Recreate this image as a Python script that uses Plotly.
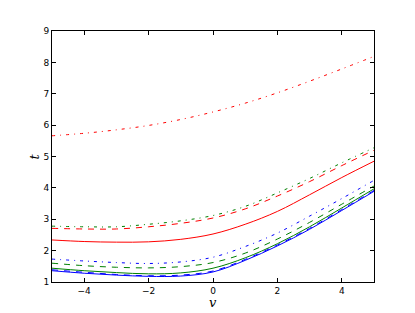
import plotly.graph_objects as go

v = [-5, -4, -3, -2, -1, 0, 1, 2, 3, 4, 5]

red_solid = [2.34, 2.29, 2.27, 2.28, 2.36, 2.53, 2.84, 3.25, 3.78, 4.33, 4.85]
red_dashed = [2.71, 2.69, 2.69, 2.76, 2.87, 3.04, 3.33, 3.74, 4.20, 4.71, 5.20]
red_dashdot = [5.66, 5.74, 5.85, 5.99, 6.18, 6.42, 6.70, 7.03, 7.40, 7.79, 8.19]

green_solid = [1.44, 1.36, 1.30, 1.26, 1.29, 1.44, 1.77, 2.22, 2.76, 3.36, 3.97]
green_dashed = [1.60, 1.52, 1.47, 1.45, 1.49, 1.62, 1.92, 2.37, 2.90, 3.48, 4.06]
green_dashdot = [2.78, 2.76, 2.76, 2.84, 2.95, 3.12, 3.41, 3.84, 4.30, 4.80, 5.28]

blue_solid = [1.36, 1.28, 1.22, 1.18, 1.19, 1.32, 1.69, 2.15, 2.68, 3.28, 3.89]
blue_dashed = [1.39, 1.31, 1.24, 1.20, 1.22, 1.35, 1.72, 2.18, 2.71, 3.31, 3.92]
blue_dashdot = [1.73, 1.67, 1.62, 1.59, 1.64, 1.79, 2.13, 2.56, 3.10, 3.66, 4.24]

x_ticks = [-4, -2, 0, 2, 4]
y_ticks = [1, 2, 3, 4, 5, 6, 7, 8, 9]

RED, GREEN, BLUE = "rgb(255,0,0)", "rgb(0,128,0)", "rgb(0,0,255)"
DASH = "6px,6px"
DASHDOT = "3px,5px,1px,5px"

series = [
    (red_solid, RED, "solid"),
    (red_dashed, RED, DASH),
    (red_dashdot, RED, DASHDOT),
    (green_solid, GREEN, "solid"),
    (green_dashed, GREEN, DASH),
    (green_dashdot, GREEN, DASHDOT),
    (blue_solid, BLUE, "solid"),
    (blue_dashed, BLUE, DASH),
    (blue_dashdot, BLUE, DASHDOT),
]

fig = go.Figure()
for ys, col, dash in series:
    fig.add_trace(go.Scatter(
        x=v, y=ys, mode="lines",
        line=dict(color=col, width=1, dash=dash, shape="spline", smoothing=1.0),
        showlegend=False, hoverinfo="skip",
    ))

axis_common = dict(
    showgrid=False, zeroline=False, showline=True, linecolor="black", linewidth=1,
    mirror="ticks", ticks="inside", ticklen=4, tickcolor="black", tickwidth=1,
    tickfont=dict(family="DejaVu Sans", size=9, color="black"), automargin=False,
)

# page body has an 8px default margin, so the figure is 8px smaller
fig.update_layout(
    width=407, height=305,
    margin=dict(l=44, r=41, t=23, b=31),
    paper_bgcolor="white", plot_bgcolor="white",
    xaxis=dict(range=[-5, 5], tickvals=x_ticks, **axis_common),
    yaxis=dict(range=[1, 9], tickvals=y_ticks, **axis_common),
    annotations=[
        dict(text="<i>v</i>", x=0.5, y=-0.08, xref="paper", yref="paper",
             xanchor="center", yanchor="middle", showarrow=False,
             font=dict(family="DejaVu Serif", size=13, color="black")),
        dict(text="<i>t</i>", x=-0.053, y=0.5, xref="paper", yref="paper",
             xanchor="center", yanchor="middle", showarrow=False, textangle=-90,
             font=dict(family="DejaVu Serif", size=13, color="black")),
    ],
)

fig.write_html("out.html")
